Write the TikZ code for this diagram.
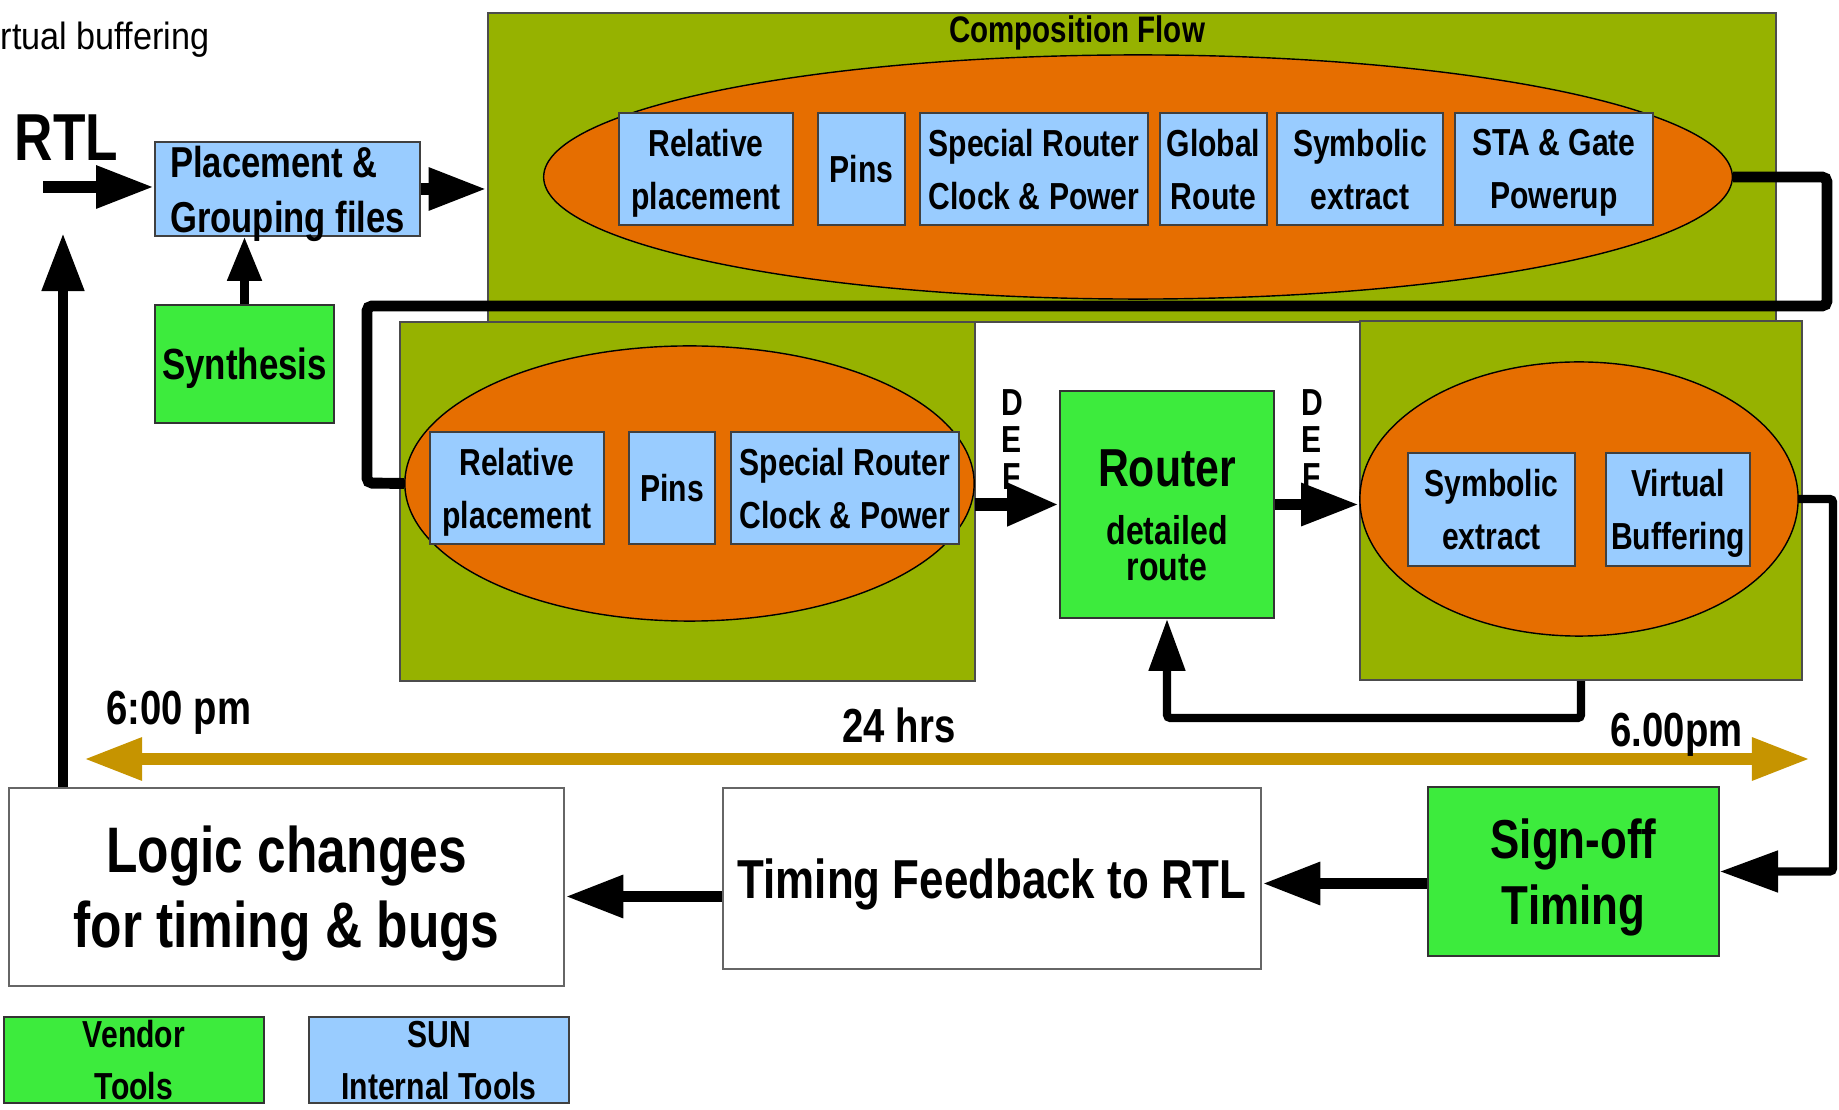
\documentclass[tikz,border=0pt]{standalone}
\usepackage{fontspec}
\setmainfont{Liberation Sans}[FakeStretch=0.80]
\newfontfamily\plainsans{Liberation Sans}[FakeStretch=0.90]
\usetikzlibrary{shapes,arrows.meta,calc}
\definecolor{flowgreen}{RGB}{150,178,0}
\definecolor{flowred}{RGB}{230,110,0}
\definecolor{toolblue}{RGB}{153,204,255}
\definecolor{vendorgreen}{RGB}{61,235,61}
\definecolor{timegold}{RGB}{198,148,0}
\newcommand{\fsz}[2]{\fontsize{#1}{#2}\selectfont\bfseries}

\begin{document}
\begin{tikzpicture}[x=0.01cm, y=-0.01cm, >={Triangle[length=5.8mm,width=4mm]},
  tool/.style={draw=black!75, fill=toolblue, line width=0.5pt, inner sep=0pt, text depth=0pt, align=center, font=\fsz{10.7}{15}},
  vendor/.style={draw=black!80, fill=vendorgreen, line width=0.5pt, inner sep=0pt, text depth=0pt, align=center},
  stage/.style={draw=black!70, fill=flowgreen, line width=0.6pt, inner sep=0pt},
  blob/.style={ellipse, draw=black, fill=flowred, line width=0.4pt, inner sep=0pt},
  whitebox/.style={draw=black!60, fill=white, line width=0.6pt, inner sep=0pt, text depth=0pt, align=center},
  timetag/.style={inner sep=0pt, font=\fsz{13.6}{15}},
  deftag/.style={inner sep=0pt, anchor=north, align=center, font=\fsz{10.7}{10.5}},
  flow/.style={line width=3.4pt, ->},
  loopline/.style={line width=3.1pt, rounded corners=0.05cm},
  backline/.style={line width=2.3pt, rounded corners=0.03cm, ->}]

\useasboundingbox (0,0) rectangle (1839,1110);

\node[inner sep=0pt, anchor=base west, font=\plainsans\fontsize{10.8}{12}\selectfont] at (0,50) (buf) {rtual buffering};
\node[inner sep=0pt, anchor=base west, font=\fsz{18.9}{20}] at (14,161) (rtl) {RTL};
\node[tool, minimum width=2.65cm, minimum height=0.94cm, align=left, font=\fsz{12.3}{15.6}] at (287.5,189) (place) {Placement \&\\Grouping files};
\node[vendor, minimum width=1.79cm, minimum height=1.18cm, font=\fsz{12.4}{14}] at (244.5,364) (synth) {Synthesis};

\node[stage, minimum width=12.88cm, minimum height=3.09cm] at (1132,167.5) (comp) {};
\node[inner sep=0pt, anchor=base, font=\fsz{10.5}{12}] at (1077,43) (comptitle) {Composition Flow};
\node[blob, minimum width=11.88cm, minimum height=2.44cm] at (1138,177) (compell) {};
\node[tool, minimum width=1.74cm, minimum height=1.12cm] at (706,169) (crel) {Relative\\placement};
\node[tool, minimum width=0.87cm, minimum height=1.12cm] at (861.5,169) (cpin) {Pins};
\node[tool, minimum width=2.28cm, minimum height=1.12cm] at (1034,169) (cspec) {Special Router\\Clock \& Power};
\node[tool, minimum width=1.07cm, minimum height=1.12cm] at (1213.5,169) (cglob) {Global\\Route};
\node[tool, minimum width=1.66cm, minimum height=1.12cm] at (1360,169) (csym) {Symbolic\\extract};
\node[tool, minimum width=1.98cm, minimum height=1.12cm] at (1554,169) (csta) {STA \& Gate\\Powerup};

\node[stage, minimum width=5.75cm, minimum height=3.59cm] at (687.5,501.5) (prep) {};
\node[blob, minimum width=5.69cm, minimum height=2.75cm] at (689.5,483.5) (prepell) {};
\node[tool, minimum width=1.74cm, minimum height=1.12cm] at (517,488) (prel) {Relative\\placement};
\node[tool, minimum width=0.86cm, minimum height=1.12cm] at (672,488) (ppin) {Pins};
\node[tool, minimum width=2.28cm, minimum height=1.12cm] at (845,488) (pspec) {Special Router\\Clock \& Power};

\node[vendor, minimum width=2.14cm, minimum height=2.27cm, text height=43pt, text depth=0pt, font=\fsz{11.4}{10}] at (1167,504.5) (router) {{\fsz{15.2}{17}Router}\\[6.5pt]detailed\\route};
\node[deftag] at (1012,389) (def1) {D\\E\\F};
\node[deftag] at (1312,389) (def2) {D\\E\\F};

\node[stage, minimum width=4.42cm, minimum height=3.59cm] at (1581,500.5) (post) {};
\node[blob, minimum width=4.38cm, minimum height=2.74cm] at (1579,499) (postell) {};
\node[tool, minimum width=1.67cm, minimum height=1.13cm] at (1491.5,509.5) (psym) {Symbolic\\extract};
\node[tool, minimum width=1.44cm, minimum height=1.13cm] at (1678,509.5) (pvirt) {Virtual\\Buffering};

\node[whitebox, minimum width=5.55cm, minimum height=1.98cm, font=\fsz{18.3}{21.3}] at (286.5,887) (logic) {Logic changes\\for timing \& bugs};
\node[whitebox, minimum width=5.38cm, minimum height=1.81cm, font=\fsz{15.6}{18}] at (992,878.5) (timing) {Timing Feedback to RTL};
\node[vendor, minimum width=2.91cm, minimum height=1.69cm, font=\fsz{15.6}{18.8}] at (1573.5,871.5) (signoff) {Sign-off\\Timing};

\node[vendor, minimum width=2.60cm, minimum height=0.86cm, font=\fsz{10.7}{14.8}] at (134,1060) (vendorkey) {Vendor\\Tools};
\node[tool, minimum width=2.60cm, minimum height=0.86cm, font=\fsz{10.7}{14.8}] at (439,1060) (sunkey) {SUN\\Internal Tools};

\coordinate (t0) at (84,759);
\coordinate (t1) at (1810,759);
\draw[line width=3.4pt, timegold, <->] (t0) -- (t1);
\node[timetag, anchor=base west] at (106,725) (start) {6:00 pm};
\node[timetag, anchor=base] at (899,743) (span) {24 hrs};
\node[timetag, anchor=base west] at (1610,747) (stop) {6.00pm};

\coordinate (rtlin) at (43,187);
\coordinate (loopr) at (1827,306);
\coordinate (loopl) at (367,483);
\coordinate (fb) at (1167,718);
\coordinate (sg) at (1833,871.5);
\coordinate (back) at (63,233);
\coordinate (sgout) at ($(signoff.west)+(0,12)$);
\coordinate (tmout) at ($(timing.west)+(0,18)$);

\draw[flow] (rtlin) -- (rtlin -| place.west);
\draw[flow] (place.east) -- (place.east -| comp.west);
\draw[flow, line width=2.3pt, >={Triangle[length=4.4mm,width=3.3mm]}] (synth.north) -- (synth.north |- place.south);
\draw[loopline] (compell.east) -| (loopr) -| (loopl) -- (prepell.west);
\draw[flow, line width=3.7pt, >={Triangle[length=5.2mm,width=4mm]}] (router.west -| prepell.east) -- (router.west);
\draw[flow] (router.east) -- (router.east -| postell.west);
\draw[backline, >={Triangle[length=5.2mm,width=3.5mm]}] (post.south) |- (fb) -- (router.south);
\draw[backline] (postell.east) -| (sg) -- (signoff.east);
\draw[flow] (sgout) -- (sgout -| timing.east);
\draw[flow] (tmout) -- (tmout -| logic.east);
\draw[flow, line width=3.1pt] (back |- logic.north) -- (back);
\end{tikzpicture}
\end{document}
